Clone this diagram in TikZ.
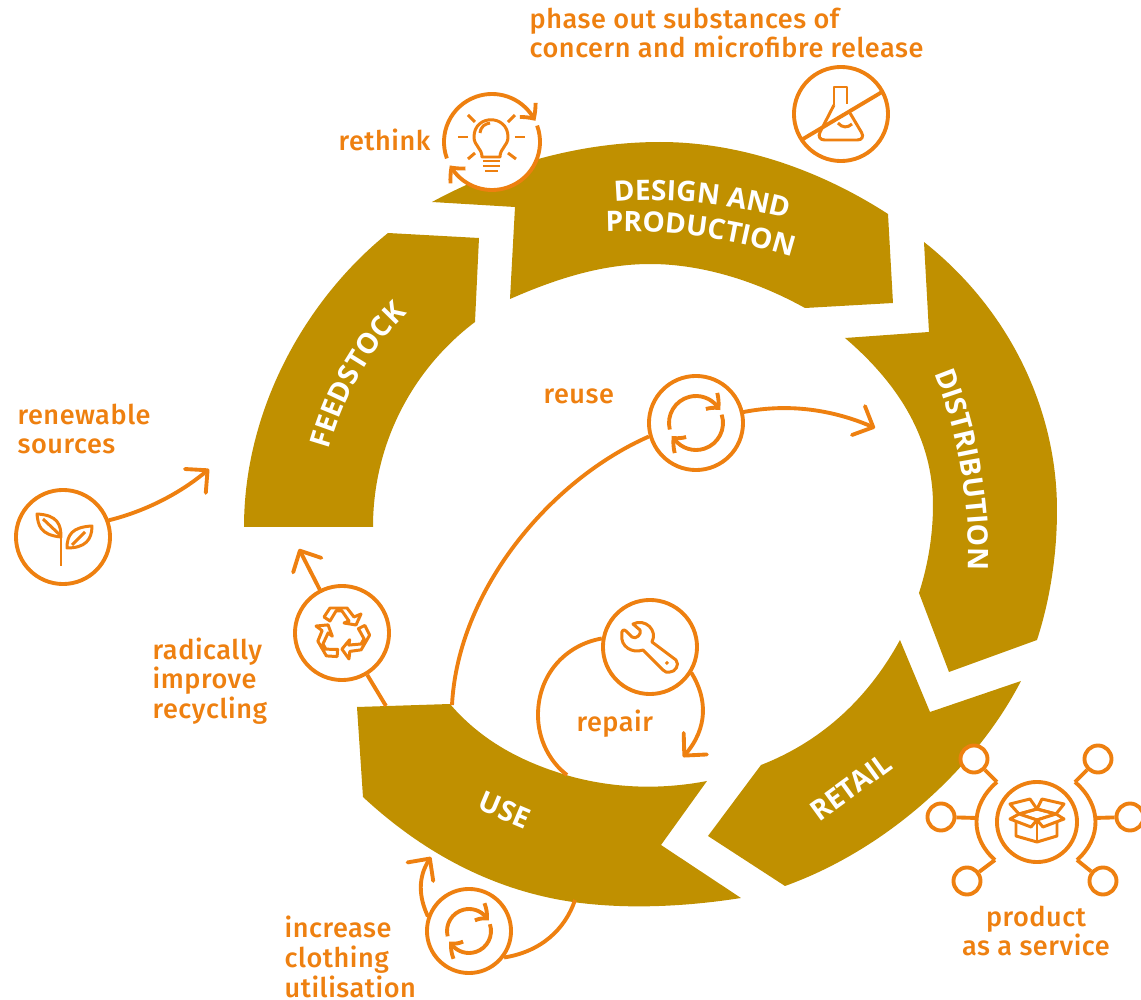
\documentclass[tikz,border=0pt]{standalone}
\usepackage{fontspec}
\setmainfont{Fira Sans Medium}[LetterSpace=2]
\newfontfamily\segfont{Open Sans}
\usetikzlibrary{arrows.meta,bending,decorations.text}
\definecolor{gold}{HTML}{C09000}
\definecolor{tone}{HTML}{EE8010}
\begin{document}
\begin{tikzpicture}[x=0.01cm,y=-0.01cm,
	seg/.style = {fill=gold},
	wheel/.style = {circle, draw=tone, fill=white, line width=1.1pt, inner sep=0pt, minimum size=0.94cm},
	blank/.style = {circle, fill=white, inner sep=0pt, minimum size=0.94cm},
	sat/.style = {circle, draw=tone, fill=white, line width=1.1pt, inner sep=0pt, minimum size=0.27cm},
	flow/.style = {draw=tone, line width=1.1pt, line cap=round, -{Straight Barb[length=4.6pt,width=9pt,round]}},
	ring/.style = {draw=tone, line width=1.1pt, -{Straight Barb[length=3pt,width=6pt,bend]}},
	wire/.style = {draw=tone, line width=1.1pt},
	glyph/.style = {draw=tone, line width=0.85pt, line join=round},
	spin/.style = {draw=tone, line width=1.1pt, -{Straight Barb[length=2.8pt,width=5.6pt,bend]}},
	lbl/.style = {text=tone, font=\fontsize{7.7}{8.45}\selectfont, align=left, inner sep=0pt},
	seglbl/.style = {text=white, font=\segfont\fontsize{8}{9}\selectfont\bfseries, inner sep=0pt}]
	
	\useasboundingbox (0,0) rectangle (1141,1000);
	
	\fill[seg] (244,527) .. controls (244,410) and (305,300) .. (388,233) -- (479,238) -- (475,322)
		.. controls (414,368) and (373,442) .. (373,527) -- cycle;
	\fill[seg] (432,202) -- (515,207) -- (510,299) .. controls (560,277) and (605,264) .. (650,264)
		.. controls (705,264) and (760,283) .. (805,308) -- (893,303) -- (888,214)
		.. controls (820,170) and (740,142) .. (660,142) .. controls (580,142) and (500,165) .. (432,202) -- cycle;
	\fill[seg] (924,242) .. controls (1010,310) and (1057,410) .. (1057,510)
		.. controls (1057,555) and (1050,600) .. (1037,640) -- (949,672) -- (919,593)
		.. controls (928,565) and (933,535) .. (933,505) .. controls (933,440) and (900,385) .. (845,338)
		-- (929,332) -- cycle;
	\fill[seg] (900,640) -- (930,712) -- (1021,681) .. controls (975,770) and (885,850) .. (785,886)
		-- (708,836) -- (761,765) .. controls (825,740) and (870,695) .. (900,640) -- cycle;
	\fill[seg] (357,707) -- (450,704) .. controls (485,745) and (530,765) .. (573,777)
		.. controls (615,788) and (660,790) .. (707,781) -- (661,845) -- (741,898)
		.. controls (690,906) and (630,910) .. (573,902) .. controls (490,890) and (420,850) .. (363,797) -- cycle;
	
	\path[decorate,decoration={text along path,text align=center,text={|\color{white}\segfont\fontsize{8}{9}\selectfont\bfseries|DESIGN AND}}]
		(610,202) .. controls (670,196) and (735,205) .. (792,220);
	\path[decorate,decoration={text along path,text align=center,text={|\color{white}\segfont\fontsize{8}{9}\selectfont\bfseries|PRODUCTION}}]
		(596,232) .. controls (665,228) and (735,238) .. (802,260);
	\path[decorate,decoration={text along path,text align=center,text={|\color{white}\segfont\fontsize{8}{9}\selectfont\bfseries|DISTRIBUTION}}]
		(932,368) .. controls (955,420) and (972,500) .. (968,576);
	\path[decorate,decoration={text along path,text align=center,text={|\color{white}\segfont\fontsize{8}{9}\selectfont\bfseries|FEEDSTOCK}}]
		(330,446) .. controls (345,395) and (370,350) .. (405,316);
	\node[seglbl,rotate=36] (retail) at (851,787) {RETAIL};
	\node[seglbl,rotate=-23] (use) at (505,810) {USE};
	
	\node[wheel] (plant) at (63,537) {};
	\node[blank] (bulb) at (492,142) {};
	\node[wheel] (flask) at (841,114) {};
	\node[wheel] (reuse) at (696,423) {};
	\node[wheel] (wrench) at (650,647) {};
	\node[wheel] (recycle) at (342,633) {};
	\node[wheel,minimum size=0.84cm] (util) at (469,931) {};
	\node[wheel,minimum size=0.8cm] (box) at (1037,822) {};
	
	\node[sat] (sat1) at (974,759) {};
	\node[sat] (sat2) at (1098,759) {};
	\node[sat] (sat3) at (941,817) {};
	\node[sat] (sat4) at (1130,817) {};
	\node[sat] (sat5) at (967,881) {};
	\node[sat] (sat6) at (1103,881) {};
	\coordinate (hub1) at (997,782);
	\coordinate (hub2) at (1075,782);
	\coordinate (hub3) at (977,818);
	\coordinate (hub4) at (1094,818);
	\coordinate (hub5) at (995,860);
	\coordinate (hub6) at (1077,860);
	\draw[wire] (hub1) .. controls (970,805) and (970,838) .. (hub5);
	\draw[wire] (hub2) .. controls (1102,805) and (1102,838) .. (hub6);
	\foreach \n in {1,...,6}
		\draw[wire] (sat\n) -- (hub\n);
	
	\coordinate (feedin) at (209,469);
	\coordinate (recyclein) at (299,549);
	\coordinate (reusein) at (875,428);
	\coordinate (repairin) at (683,757);
	\coordinate (utilin) at (431,857);
	\coordinate (usetop) at (452,705);
	\coordinate (useleft) at (386,706);
	\coordinate (usein) at (567,775);
	\coordinate (usebot) at (575,900);
	
	\draw[flow] (plant.20) .. controls (150,510) and (185,490) .. (feedin);
	\draw[wire] (useleft) -- (recycle);
	\draw[flow] (recycle) -- (recyclein);
	\draw[wire] (usetop) .. controls (458,590) and (550,480) .. (reuse.196);
	\draw[flow] (reuse.13) .. controls (790,403) and (835,410) .. (reusein);
	\draw[wire] (wrench.170) .. controls (565,645) and (538,675) .. (538,715) .. controls (538,740) and (550,762) .. (usein);
	\draw[flow] (wrench.-32) .. controls (708,700) and (708,730) .. (repairin);
	\draw[wire] (usebot) .. controls (565,930) and (540,952) .. (util.-37);
	\draw[flow] (util.160) .. controls (418,895) and (418,875) .. (utilin);
	
	\draw[ring] ([shift={(160:48)}]bulb.center) arc[start angle=160,end angle=334,radius=48];
	\draw[ring] ([shift={(340:48)}]bulb.center) arc[start angle=340,end angle=511,radius=48];
	
	\foreach \n/\r in {reuse/27,util/22}{
		\begin{scope}[shift={(\n.center)}]
			\draw[spin] (166:\r) arc[start angle=166,end angle=332,radius=\r];
			\draw[spin] (342:\r) arc[start angle=342,end angle=512,radius=\r];
		\end{scope}
	}
	
	\begin{scope}[glyph]
		\draw (61,566) -- (61,535);
		\draw (37,514) .. controls (58,515) and (61,525) .. (61,537) .. controls (40,535) and (38,525) .. (37,514) -- cycle;
		\draw (92,526) .. controls (72,527) and (67,535) .. (67,548) .. controls (85,548) and (92,540) .. (92,526) -- cycle;
		\draw (43,519) -- (60,535);
		\draw (85,532) -- (72,545);
		\draw (482,157) .. controls (482,148) and (474,146) .. (474,137) .. controls (474,114) and (508,114) .. (508,137)
			.. controls (508,146) and (500,148) .. (500,157) -- cycle;
		\draw (480,133) .. controls (481,126) and (485,124) .. (490,123);
		\draw (483,161) -- (500,161);
		\draw (483,166) -- (500,166);
		\draw (485,171) -- (498,171);
		\draw (458,137) -- (468,137);
		\draw (515,137) -- (525,137);
		\draw (468,115) -- (475,122);
		\draw (515,115) -- (508,122);
		\draw (468,159) -- (475,153);
		\draw (508,153) -- (516,159);
		\draw[line width=1.1pt] (803,139) -- (882,92);
		\draw (834,105) -- (834,87) -- (847,87) -- (847,104);
		\draw[rounded corners=2.5pt] (834,105) -- (816,140) -- (866,140) -- (850,113);
		\draw (838,123) .. controls (842,128) and (848,128) .. (852,124);
		\draw (633,624) .. controls (645,618) and (658,630) .. (652,642) -- (676,660)
			.. controls (680,665) and (675,672) .. (670,672) .. controls (667,673) and (665,672) .. (663,670) -- (643,650)
			.. controls (632,654) and (620,646) .. (622,635) .. controls (621,630) and (624,629) .. (626,631) -- (632,637)
			.. controls (636,640) and (642,634) .. (640,630) -- cycle;
		\draw (666,662) -- (668,664);
	\end{scope}
	
	\foreach \a in {0,120,240}{
		\begin{scope}[shift={(recycle.center)},rotate=\a]
			\draw[glyph] (-18,-16) -- (-12,-25) -- (5,-25) -- (12,-16) -- (19,-19) -- (14,-8)
				-- (2,-10) -- (7,-12) -- (0,-22) -- (-6,-22) -- (-12,-12) -- cycle;
		\end{scope}
	}
	
	\begin{scope}[shift={(box.center)},glyph]
		\draw (-21,0) -- (-21,14) -- (0,20) -- (20,14) -- (20,0);
		\draw (0,-3) -- (0,20);
		\draw (-18,-8) -- (0,-13) -- (19,-8) -- (0,-2) -- cycle;
		\draw (-27,-18) -- (-7,-23) -- (0,-13) -- (-18,-8) -- cycle;
		\draw (5,-23) -- (27,-18) -- (19,-8) -- (0,-13) -- cycle;
		\draw[fill=white] (-18,-8) -- (-27,-3) -- (-6,5) -- (0,-2) -- cycle;
		\draw[fill=white] (19,-8) -- (27,-3) -- (6,5) -- (0,-2) -- cycle;
	\end{scope}
	
	\node[lbl,anchor=west] (phase) at (529,33) {phase out substances of\\concern and microfibre release};
	\node[lbl,anchor=west] (rethink) at (338,140) {rethink};
	\node[lbl,anchor=west] (reusetext) at (543,396) {reuse};
	\node[lbl,anchor=west] (renew) at (17,429) {renewable\\sources};
	\node[lbl,anchor=west] (radical) at (152,681) {radically\\improve\\recycling};
	\node[lbl,anchor=west] (repair) at (576,724) {repair};
	\node[lbl,anchor=west] (increase) at (284,957) {increase\\clothing\\utilisation};
	\node[lbl,align=center] (service) at (1036,931) {product\\as a service};
\end{tikzpicture}
\end{document}
